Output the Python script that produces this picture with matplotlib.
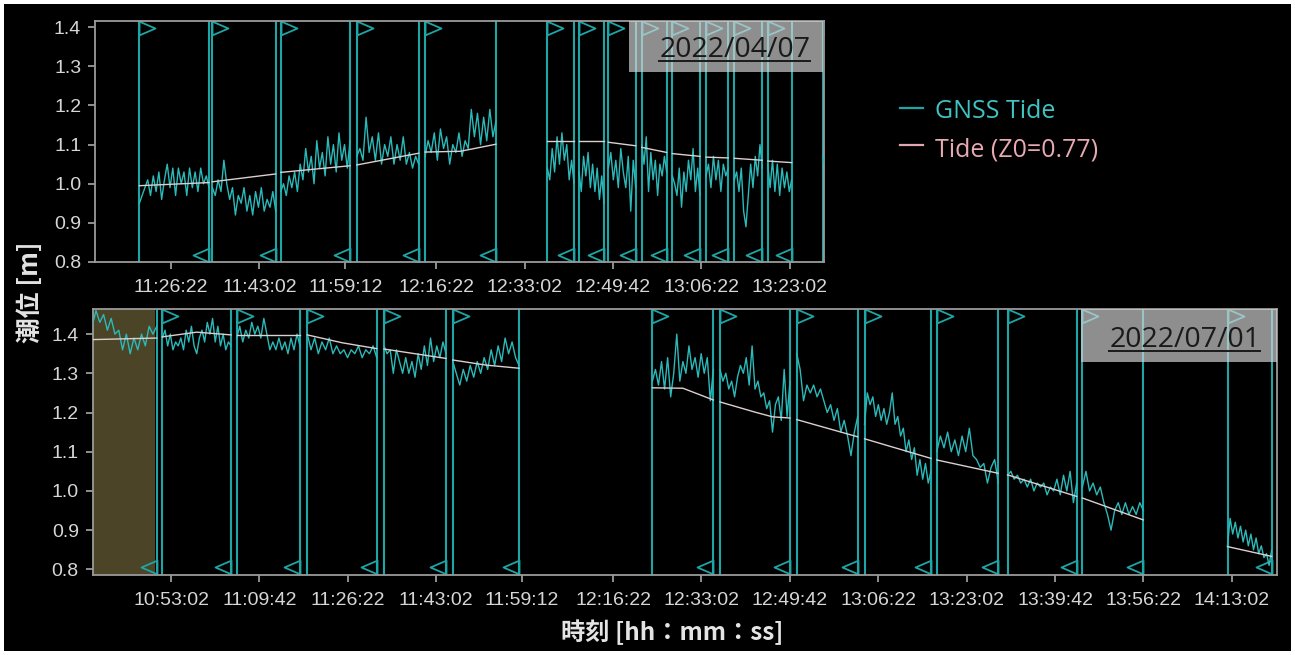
import numpy as np
import matplotlib
matplotlib.use('Agg')
import matplotlib.pyplot as plt
import matplotlib.transforms as mtransforms
from matplotlib import font_manager
from matplotlib.patches import Rectangle
from matplotlib.path import Path
from matplotlib.lines import Line2D

# ---- data (times as hh:mm:ss, tide level in m) ----
top_date = '2022/04/07'
bot_date = '2022/07/01'

top_xticks = ['11:26:22', '11:43:02', '11:59:12', '12:16:22', '12:33:02',
              '12:49:42', '13:06:22', '13:23:02']
bot_xticks = ['10:53:02', '11:09:42', '11:26:22', '11:43:02', '11:59:12',
              '12:16:22', '12:33:02', '12:49:42', '13:06:22', '13:23:02',
              '13:39:42', '13:56:22', '14:13:02']
top_xlim = ('11:12:02', '13:29:29')
bot_xlim = ('10:38:16', '14:21:30')
yticks = [0.8, 0.9, 1.0, 1.1, 1.2, 1.3, 1.4]

# 2022/04/07 observation segments
top_starts = ['11:20:23', '11:34:09', '11:47:03', '12:01:23', '12:14:15', '12:37:19',
              '12:43:17', '12:48:49', '12:55:07', '13:00:53', '13:07:14', '13:12:34',
              '13:18:52', '13:29:17']
top_ends = ['11:33:32', '11:46:06', '12:00:07', '12:13:04', '12:27:38', '12:42:21',
            '12:48:00', '12:53:59', '12:59:49', '13:06:06', '13:11:26', '13:17:51',
            '13:23:23', '13:29:45']
top_gnss = [
    [0.95, 0.97, 0.99, 1.01, 0.97, 1.02, 0.98, 1.03, 0.96, 1.01, 1.05, 0.99, 1.04,
     0.97, 1.04, 1.00, 1.03, 0.97, 1.04, 0.99, 1.03, 0.98, 1.04, 1.00, 1.02, 0.99],
    [0.99, 0.97, 1.01, 0.98, 1.06, 1.00, 0.96, 0.99, 0.92, 0.97, 0.95, 0.99, 0.93,
     0.97, 0.92, 0.98, 0.94, 0.99, 0.93, 0.96, 0.94, 0.98, 0.93],
    [0.98, 1.00, 0.97, 1.02, 0.99, 1.03, 0.98, 1.05, 1.01, 1.09, 1.03, 1.07, 1.00,
     1.11, 1.04, 1.08, 1.02, 1.12, 1.05, 1.10, 1.03, 1.13, 1.06, 1.10, 1.04, 1.11],
    [1.07, 1.09, 1.06, 1.17, 1.08, 1.12, 1.06, 1.13, 1.05, 1.10, 1.07, 1.12, 1.05,
     1.10, 1.06, 1.12, 1.05, 1.08, 1.04, 1.07, 1.05],
    [1.07, 1.11, 1.08, 1.13, 1.06, 1.14, 1.09, 1.12, 1.05, 1.10, 1.08, 1.13, 1.07,
     1.11, 1.09, 1.19, 1.12, 1.18, 1.10, 1.17, 1.11, 1.19, 1.12, 1.16],
    [1.04, 1.01, 1.09, 1.03, 1.12, 1.05, 1.13, 1.06, 1.10, 1.01, 1.06, 1.00],
    [1.03, 0.98, 1.07, 1.02, 1.08, 0.99, 1.05, 0.98, 1.04, 0.96, 1.02, 0.95],
    [1.04, 1.08, 1.01, 1.06, 0.99, 1.09, 1.03, 0.99, 1.07, 0.93, 1.06, 0.99],
    [1.10, 1.05, 1.12, 0.98, 1.08, 1.01, 1.06, 0.97, 1.05, 1.02, 1.07, 1.03],
    [1.02, 1.00, 0.97, 1.04, 0.94, 1.03, 0.98, 1.06, 1.01, 1.09, 0.98, 1.04, 0.97],
    [1.02, 1.05, 0.99, 1.07, 1.01, 1.06, 0.98, 1.05, 1.02, 1.04],
    [1.01, 1.03, 0.98, 1.04, 0.93, 0.89, 0.97, 1.05, 0.99, 1.07, 1.02, 1.10, 1.04],
    [1.05, 0.99, 1.06, 0.98, 1.05, 0.97, 1.04, 0.99, 1.03, 0.98, 1.01],
    [1.07, 1.04],
]
top_tide = [
    [0.995, 1.003], [1.005, 1.025], [1.029, 1.046], [1.048, 1.078],
    [1.081, 1.083, 1.101], [1.108, 1.108], [1.108, 1.108], [1.106, 1.097],
    [1.093, 1.080], [1.077, 1.070], [1.068, 1.066], [1.065, 1.060],
    [1.058, 1.054], [],
]

# 2022/07/01 observation segments
bot_starts = ['10:38:10', '10:51:24', '11:05:25', '11:18:44', '11:33:11', '11:46:09',
              '12:23:47', '12:36:32', '12:51:00', '13:03:47', '13:17:24', '13:30:45',
              '13:44:51', '14:12:13']
bot_ends = ['10:50:20', '11:04:21', '11:17:21', '11:31:49', '11:44:53', '11:58:39',
            '12:35:17', '12:49:44', '13:02:30', '13:16:19', '13:29:00', '13:43:47',
            '13:56:21', '14:20:33']
bot_gnss = [
    [1.42, 1.46, 1.43, 1.45, 1.41, 1.44, 1.40, 1.41, 1.36, 1.40, 1.35, 1.39, 1.36,
     1.40, 1.37, 1.42, 1.40, 1.42],
    [1.39, 1.41, 1.37, 1.40, 1.36, 1.38, 1.37, 1.39, 1.36, 1.41, 1.38, 1.42, 1.37,
     1.35, 1.39, 1.41, 1.38, 1.43, 1.40, 1.44, 1.38, 1.42, 1.37, 1.40, 1.36, 1.38, 1.37],
    [1.39, 1.42, 1.38, 1.41, 1.39, 1.43, 1.40, 1.42, 1.39, 1.44, 1.40, 1.36, 1.38,
     1.36, 1.39, 1.36, 1.38, 1.35, 1.39, 1.36, 1.40, 1.37],
    [1.40, 1.36, 1.39, 1.35, 1.38, 1.36, 1.39, 1.35, 1.37, 1.35, 1.36, 1.34, 1.36,
     1.35, 1.37, 1.34, 1.36, 1.35, 1.37, 1.34],
    [1.37, 1.35, 1.36, 1.30, 1.36, 1.33, 1.30, 1.34, 1.30, 1.33, 1.29, 1.35, 1.31,
     1.37, 1.32, 1.39, 1.33, 1.37, 1.34, 1.38, 1.35],
    [1.33, 1.30, 1.27, 1.31, 1.28, 1.32, 1.29, 1.33, 1.30, 1.34, 1.31, 1.36, 1.32,
     1.37, 1.33, 1.39, 1.35, 1.38, 1.34, 1.32],
    [1.28, 1.31, 1.27, 1.33, 1.26, 1.34, 1.24, 1.30, 1.40, 1.28, 1.33, 1.30, 1.37,
     1.31, 1.34, 1.29, 1.35, 1.30, 1.34, 1.23, 1.31],
    [1.31, 1.28, 1.30, 1.26, 1.28, 1.24, 1.29, 1.32, 1.30, 1.34, 1.27, 1.37, 1.26,
     1.28, 1.24, 1.25, 1.21, 1.23, 1.15, 1.22, 1.24, 1.18, 1.31, 1.19, 1.28],
    [1.35, 1.31, 1.23, 1.27, 1.25, 1.27, 1.24, 1.26, 1.23, 1.20, 1.22, 1.18, 1.21,
     1.15, 1.18, 1.14, 1.09, 1.15, 1.19],
    [1.17, 1.25, 1.22, 1.24, 1.19, 1.22, 1.18, 1.21, 1.17, 1.20, 1.25, 1.17, 1.19,
     1.14, 1.16, 1.10, 1.13, 1.08, 1.11, 1.04, 1.08, 1.03, 1.07, 1.02, 1.05],
    [1.10, 1.14, 1.11, 1.15, 1.10, 1.13, 1.09, 1.14, 1.10, 1.16, 1.09, 1.08, 1.06,
     1.07, 1.02, 1.06, 1.08, 1.02],
    [1.04, 1.05, 1.03, 1.04, 1.02, 1.03, 1.01, 1.03, 1.00, 1.02, 1.01, 1.02, 0.99,
     1.01, 1.00, 1.03, 0.99, 1.04, 1.00, 1.05, 0.97, 1.02],
    [1.01, 1.05, 1.00, 1.02, 0.99, 1.01, 0.97, 0.94, 0.90, 0.95, 0.97, 0.94, 0.97,
     0.94, 0.96, 0.94, 0.97, 0.95],
    [0.86, 0.93, 0.89, 0.92, 0.88, 0.91, 0.87, 0.90, 0.86, 0.89, 0.85, 0.88, 0.84,
     0.86, 0.83, 0.84, 0.81, 0.85],
]
bot_tide = [
    [1.386, 1.390], [1.393, 1.405, 1.398], [1.398, 1.398], [1.398, 1.378, 1.363],
    [1.362, 1.338], [1.334, 1.321, 1.313], [1.263, 1.262, 1.232],
    [1.227, 1.214, 1.201, 1.189, 1.186], [1.182, 1.138], [1.133, 1.083],
    [1.079, 1.045], [1.041, 0.986], [0.982, 0.926], [0.858, 0.833],
]
bot_shade = ('10:38:10', '10:50:01')   # olive highlighted span

# ---- styling ----
TEAL = '#1ea5a5'
TRACE = '#2cb9b9'
TIDE = '#dccfcf'
SPINE = '#9a9a9a'
TXT = '#d6d6d6'

names = {f.name for f in font_manager.fontManager.ttflist}
tick_font = 'Liberation Sans Narrow' if 'Liberation Sans Narrow' in names else 'Liberation Sans'
cjk = ['Noto Sans CJK JP', 'DejaVu Sans']


def sec(t):
    h, m, s = t.split(':')
    return int(h) * 3600 + int(m) * 60 + int(s)


flag_r = Path([(0, 0.43), (1, 0), (0, -0.43), (0, 0.43)],
              [Path.MOVETO, Path.LINETO, Path.LINETO, Path.CLOSEPOLY])
flag_l = Path([(0, 0.43), (-1, 0), (0, -0.43), (0, 0.43)],
              [Path.MOVETO, Path.LINETO, Path.LINETO, Path.CLOSEPOLY])


def draw_panel(ax, starts, ends, gnss, tide, xlim, ylim, ticks):
    x0, x1 = sec(xlim[0]), sec(xlim[1])
    trans = mtransforms.blended_transform_factory(ax.transData, ax.transAxes)
    for s, e, g, td in zip(starts, ends, gnss, tide):
        s, e = sec(s), sec(e)
        ax.plot(np.linspace(s, e, len(g)), g, color=TRACE, lw=1.0, zorder=3)
        if len(td):
            ax.plot(np.linspace(s, e, len(td)), td, color=TIDE, lw=1.0, zorder=4)
        for x in (s, e):
            ax.axvline(x, color=TEAL, lw=1.5, zorder=2)
        if x0 < s < x1:
            ax.plot([s], [0.972], transform=trans, marker=flag_r, ms=23,
                    mfc='none', mec=TEAL, mew=1.3, zorder=2)
        if x0 < e < x1:
            ax.plot([e], [0.03], transform=trans, marker=flag_l, ms=23,
                    mfc='none', mec=TEAL, mew=1.3, zorder=2)
    ax.set_xlim(x0, x1)
    ax.set_ylim(*ylim)
    ax.set_xticks([sec(t) for t in ticks])
    ax.set_xticklabels(ticks)
    ax.set_yticks(yticks)
    ax.set_yticklabels(['%.1f' % v for v in yticks])
    ax.set_facecolor('black')
    for sp in ax.spines.values():
        sp.set_color(SPINE)
        sp.set_linewidth(1.3)
    ax.tick_params(color=SPINE, labelcolor=TXT, length=5, width=1.3, labelsize=14)
    ax.tick_params(axis='x', pad=7)
    ax.tick_params(axis='y', pad=5)
    for lab in ax.get_xticklabels() + ax.get_yticklabels():
        lab.set_fontfamily(tick_font)


fig = plt.figure(figsize=(12.95, 6.55), dpi=100, facecolor='white')
fig.patches.append(Rectangle((0.003, 0.006), 0.994, 0.988, transform=fig.transFigure,
                             facecolor='black', edgecolor='none', zorder=-10))

ax_top = fig.add_axes([0.0734, 0.600, 0.5629, 0.368])
ax_bot = fig.add_axes([0.0716, 0.1221, 0.9143, 0.4061])

draw_panel(ax_top, top_starts, top_ends, top_gnss, top_tide, top_xlim, (0.8, 1.416), top_xticks)
draw_panel(ax_bot, bot_starts, bot_ends, bot_gnss, bot_tide, bot_xlim, (0.7855, 1.464), bot_xticks)

ax_bot.axvspan(sec(bot_shade[0]), sec(bot_shade[1]), color='#4b4426', zorder=1, lw=0)

# date boxes
dates = []
for ax, date, box, pos in [(ax_top, top_date, (0.7325, 0.79, 0.266, 0.21), (0.981, 0.849)),
                           (ax_bot, bot_date, (0.8347, 0.80, 0.1653, 0.20), (0.986, 0.856))]:
    ax.add_patch(Rectangle(box[:2], box[2], box[3], transform=ax.transAxes,
                           facecolor='#d5d5d5', alpha=0.67, edgecolor='none', zorder=6))
    t = ax.text(pos[0], pos[1], date, transform=ax.transAxes, ha='right', va='baseline',
                fontsize=20.5, family='Open Sans', color='#1a1a1a', zorder=7)
    dates.append((ax, t, pos))

# legend
fig.add_artist(Line2D([900 / 1295, 923 / 1295], [1 - 108 / 655] * 2, color=TEAL, lw=1.6))
fig.add_artist(Line2D([900 / 1295, 923 / 1295], [1 - 145 / 655] * 2, color='#e0a7ae', lw=1.6))
fig.text(935 / 1295, 1 - 118 / 655, 'GNSS Tide', color='#3fc3c3', fontsize=18,
         family='Open Sans', va='baseline')
fig.text(935 / 1295, 1 - 156.5 / 655, 'Tide (Z0=0.77)', color='#e8aab2', fontsize=18,
         family='Open Sans', va='baseline')

# axis titles
fig.text(30 / 1295, 1 - 292 / 655, '潮位 [m]', rotation=90, ha='center', va='center',
         fontsize=18.5, fontweight='bold', family=cjk, color='#e4e4e4')
fig.text(672 / 1295, 1 - 632 / 655, '時刻 [hh：mm：ss]', ha='center', va='center',
         fontsize=17.5, fontweight='bold', family=cjk, color='#e4e4e4')

# underline the dates
fig.canvas.draw()
renderer = fig.canvas.get_renderer()
inv = fig.transFigure.inverted()
for ax, t, pos in dates:
    bb = t.get_window_extent(renderer)
    ybase = ax.transAxes.transform((0, pos[1]))[1] - 3.5
    (fx0, fy), (fx1, _) = inv.transform([(bb.x0, ybase), (bb.x1, ybase)])
    fig.add_artist(Line2D([fx0, fx1], [fy, fy], color='#1a1a1a', lw=1.4, zorder=8))

fig.savefig('out.png', dpi=100, facecolor=fig.get_facecolor())
